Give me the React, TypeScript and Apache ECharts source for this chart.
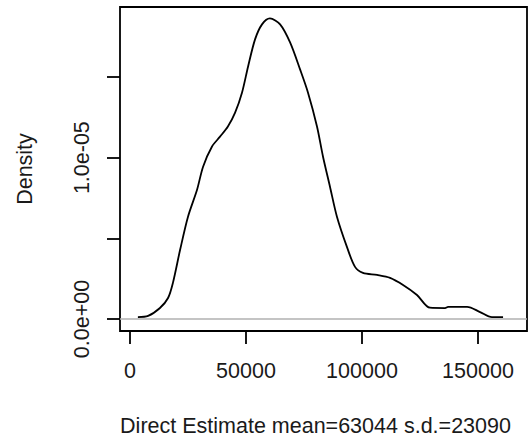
import React, { useEffect, useRef } from "react";
import * as echarts from "echarts";

// Data
const xValues = [
  3400, 7800, 12900, 16400, 18500, 21600, 25000, 28900, 31500, 35300, 38800,
  42200, 45300, 48300, 50900, 53900, 56900, 60300, 64700, 69000, 73300, 76700,
  80600, 83200, 86200, 89200, 93500, 97000, 100400, 106500, 112100, 117700,
  123700, 129300, 135800, 137100, 145300, 150900, 156000, 160800,
];
const densityValues = [
  1.2e-7, 1.9e-7, 6.8e-7, 1.3e-6, 2.24e-6, 4.29e-6, 6.34e-6, 8.01e-6, 9.44e-6,
  1.068e-5, 1.13e-5, 1.193e-5, 1.279e-5, 1.404e-5, 1.565e-5, 1.733e-5,
  1.826e-5, 1.863e-5, 1.826e-5, 1.714e-5, 1.547e-5, 1.404e-5, 1.193e-5,
  1.006e-5, 8.2e-6, 6.34e-6, 4.47e-6, 3.23e-6, 2.86e-6, 2.73e-6, 2.55e-6,
  2.11e-6, 1.49e-6, 7.0e-7, 6.8e-7, 7.5e-7, 7.5e-7, 4.3e-7, 1.2e-7, 1.2e-7,
];
const xTicks = [0, 50000, 100000, 150000];
const yTicks = [0, 5e-6, 1e-5, 1.5e-5];
const yLabelTicks = [0, 1e-5];
const xTitle = "Direct Estimate mean=63044 s.d.=23090";
const yTitle = "Density";

const FONT = "Liberation Sans, Arial, sans-serif";

function rExp(v: number): string {
  return v.toExponential(1).replace(/e([+-])(\d)$/, "e$10$2");
}

export default function App() {
  const ref = useRef<HTMLDivElement>(null);
  useEffect(() => {
    if (!ref.current) return;
    const chart = echarts.init(ref.current, null, { renderer: "svg" });
    const data = xValues.map((x, i) => [x, densityValues[i]]);
    chart.setOption({
      animation: false,
      backgroundColor: "#fff",
      grid: {
        left: 120,
        top: 7,
        width: 407,
        height: 324,
        show: true,
        borderColor: "#000",
        borderWidth: 1.8,
        backgroundColor: "transparent",
      },
      xAxis: {
        type: "value",
        min: -4310,
        max: 171121,
        name: xTitle,
        nameLocation: "middle",
        nameGap: 84,
        nameTextStyle: {
          fontFamily: FONT,
          fontSize: 21.5,
          color: "#1a1a1a",
          padding: [0, 16, 0, 0],
        },
        axisLine: { show: false, onZero: false },
        splitLine: { show: false },
        axisTick: {
          show: true,
          customValues: xTicks,
          length: 13,
          lineStyle: { color: "#000", width: 1.8 },
        },
        axisLabel: {
          customValues: xTicks,
          margin: 29,
          fontFamily: FONT,
          fontSize: 21.5,
          color: "#1a1a1a",
          formatter: (v: number) => String(v),
        },
      },
      yAxis: {
        type: "value",
        min: -7.44e-7,
        max: 1.9338e-5,
        name: yTitle,
        nameLocation: "middle",
        nameGap: 84,
        nameTextStyle: { fontFamily: FONT, fontSize: 21.5, color: "#1a1a1a" },
        axisLine: { show: false, onZero: false },
        splitLine: { show: false },
        axisTick: {
          show: true,
          customValues: yTicks,
          length: 13,
          lineStyle: { color: "#000", width: 1.8 },
        },
        axisLabel: {
          customValues: yLabelTicks,
          rotate: 90,
          margin: 27,
          fontFamily: FONT,
          fontSize: 21.5,
          color: "#1a1a1a",
          formatter: (v: number) => rExp(v),
        },
      },
      series: [
        {
          type: "line",
          data,
          showSymbol: false,
          smooth: 0.3,
          lineStyle: { color: "#000", width: 1.8 },
          z: 3,
          markLine: {
            silent: true,
            symbol: "none",
            label: { show: false },
            lineStyle: { color: "#b0b0b0", width: 1.5, type: "solid" },
            data: [{ yAxis: 0 }],
            z: 1,
          },
        },
      ],
    });
    return () => chart.dispose();
  }, []);
  return (
    <div
      ref={ref}
      style={{ position: "fixed", left: 0, top: 0, width: 531, height: 443 }}
    />
  );
}
